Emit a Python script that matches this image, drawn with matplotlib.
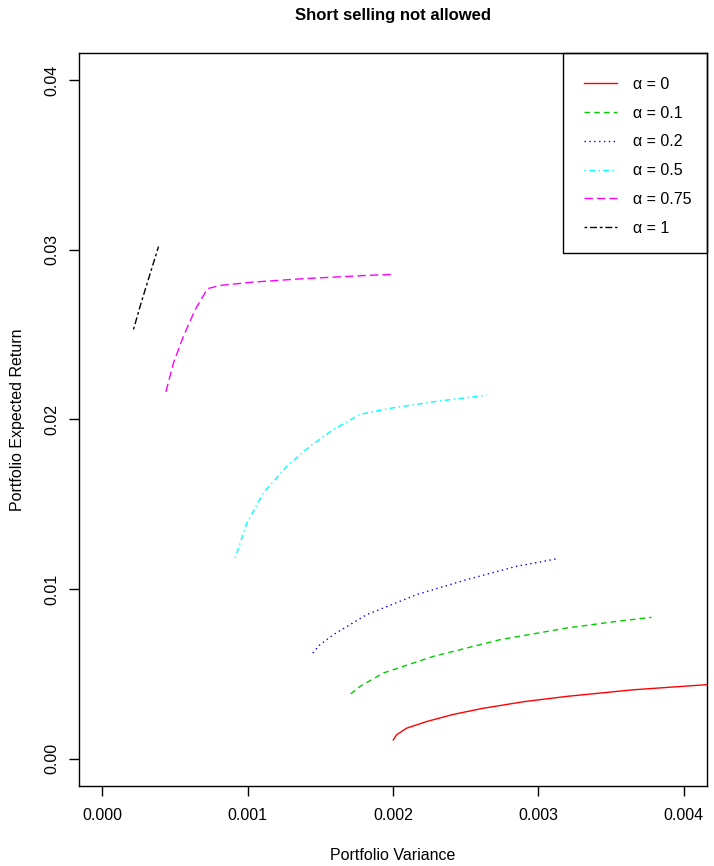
import numpy as np
import matplotlib.pyplot as plt
from matplotlib.patches import Rectangle

plt.rcParams['font.family'] = ['Liberation Sans', 'DejaVu Sans']

# efficient frontiers (variance, expected return)
var_a0 = [0.002002, 0.002025, 0.002094, 0.002232, 0.002415, 0.002620, 0.002900,
          0.003194, 0.003652, 0.004156, 0.00430]
ret_a0 = [0.00112, 0.00142, 0.00181, 0.00220, 0.00262, 0.00298, 0.00337,
          0.00368, 0.00407, 0.00437, 0.00445]

var_a01 = [0.001709, 0.001773, 0.001934, 0.002277, 0.002735, 0.003194, 0.003537, 0.003778]
ret_a01 = [0.00383, 0.00427, 0.00506, 0.00604, 0.00702, 0.00771, 0.00810, 0.00834]

var_a02 = [0.001448, 0.001498, 0.00159, 0.001819, 0.002163, 0.002506, 0.00285, 0.00312]
ret_a02 = [0.00624, 0.00673, 0.00732, 0.0085, 0.00968, 0.01056, 0.01135, 0.01178]

var_a05 = [0.000914, 0.000994, 0.001109, 0.001269, 0.00143, 0.00159, 0.001773, 0.001957, 0.0023, 0.002644]
ret_a05 = [0.01184, 0.01389, 0.01568, 0.01724, 0.01843, 0.01941, 0.0203, 0.02063, 0.02107, 0.02143]

var_a075 = [0.000438, 0.00049, 0.000559, 0.00064, 0.000724, 0.000811, 0.00104, 0.001384, 0.001842, 0.001998]
ret_a075 = [0.02163, 0.02334, 0.02492, 0.02649, 0.02771, 0.0279, 0.0281, 0.0283, 0.0285, 0.02855]

var_a1 = [0.000215, 0.000261, 0.000296, 0.000387]
ret_a1 = [0.02531, 0.02669, 0.02767, 0.03019]

labels = ["α = 0", "α = 0.1", "α = 0.2", "α = 0.5", "α = 0.75", "α = 1"]
xticks = [0.000, 0.001, 0.002, 0.003, 0.004]
yticks = [0.00, 0.01, 0.02, 0.03, 0.04]

fig = plt.figure(figsize=(7.14, 8.66), dpi=100)
ax = fig.add_axes([79 / 714, 1 - 786 / 866, 628 / 714, 733 / 866])

lw = 1.0
ax.plot(var_a0, ret_a0, color="red", lw=lw, label=labels[0])
ax.plot(var_a01, ret_a01, color="#00CD00", lw=lw, dashes=(4, 3), label=labels[1])
ax.plot(var_a02, ret_a02, color="blue", lw=lw, dashes=(1, 2.5), label=labels[2])
ax.plot(var_a05, ret_a05, color="cyan", lw=lw, dashes=(1, 2.5, 4, 2.5), label=labels[3])
ax.plot(var_a075, ret_a075, color="magenta", lw=lw, dashes=(6, 3), label=labels[4])
ax.plot(var_a1, ret_a1, color="black", lw=lw, dashes=(2, 2, 5, 2), label=labels[5])

fs = 11.5
ax.set_xlim(-0.00016, 0.00416)
ax.set_ylim(-0.0016, 0.0416)
ax.set_xticks(xticks)
ax.set_xticklabels(["%.3f" % v for v in xticks], fontsize=fs)
ax.set_yticks(yticks)
ax.set_yticklabels(["%.2f" % v for v in yticks], fontsize=fs, rotation=90, va="center")
ax.tick_params(axis="x", direction="out", length=7, width=1, pad=9)
ax.tick_params(axis="y", direction="out", length=7, width=1, pad=7)

for s in ax.spines.values():
    s.set_linewidth(1)

ax.set_xlabel("Portfolio Variance", fontsize=fs, labelpad=18)
ax.set_ylabel("Portfolio Expected Return", fontsize=fs, labelpad=14)
ax.set_title("Short selling not allowed", fontsize=12, fontweight="bold", pad=24)

# legend entries without frame, box drawn separately like R's legend()
leg = ax.legend(loc="upper right", bbox_to_anchor=(1, 1 - 8 / 733), fontsize=fs,
                frameon=False, borderaxespad=0, handlelength=2.1,
                handletextpad=0.95, labelspacing=0.86, borderpad=1.0)
ax.add_patch(Rectangle((484 / 628, 533 / 733), 144 / 628, 200 / 733,
                       transform=ax.transAxes, fill=False, edgecolor="black",
                       lw=1, clip_on=False, zorder=5))

fig.savefig("out.png", dpi=100)
